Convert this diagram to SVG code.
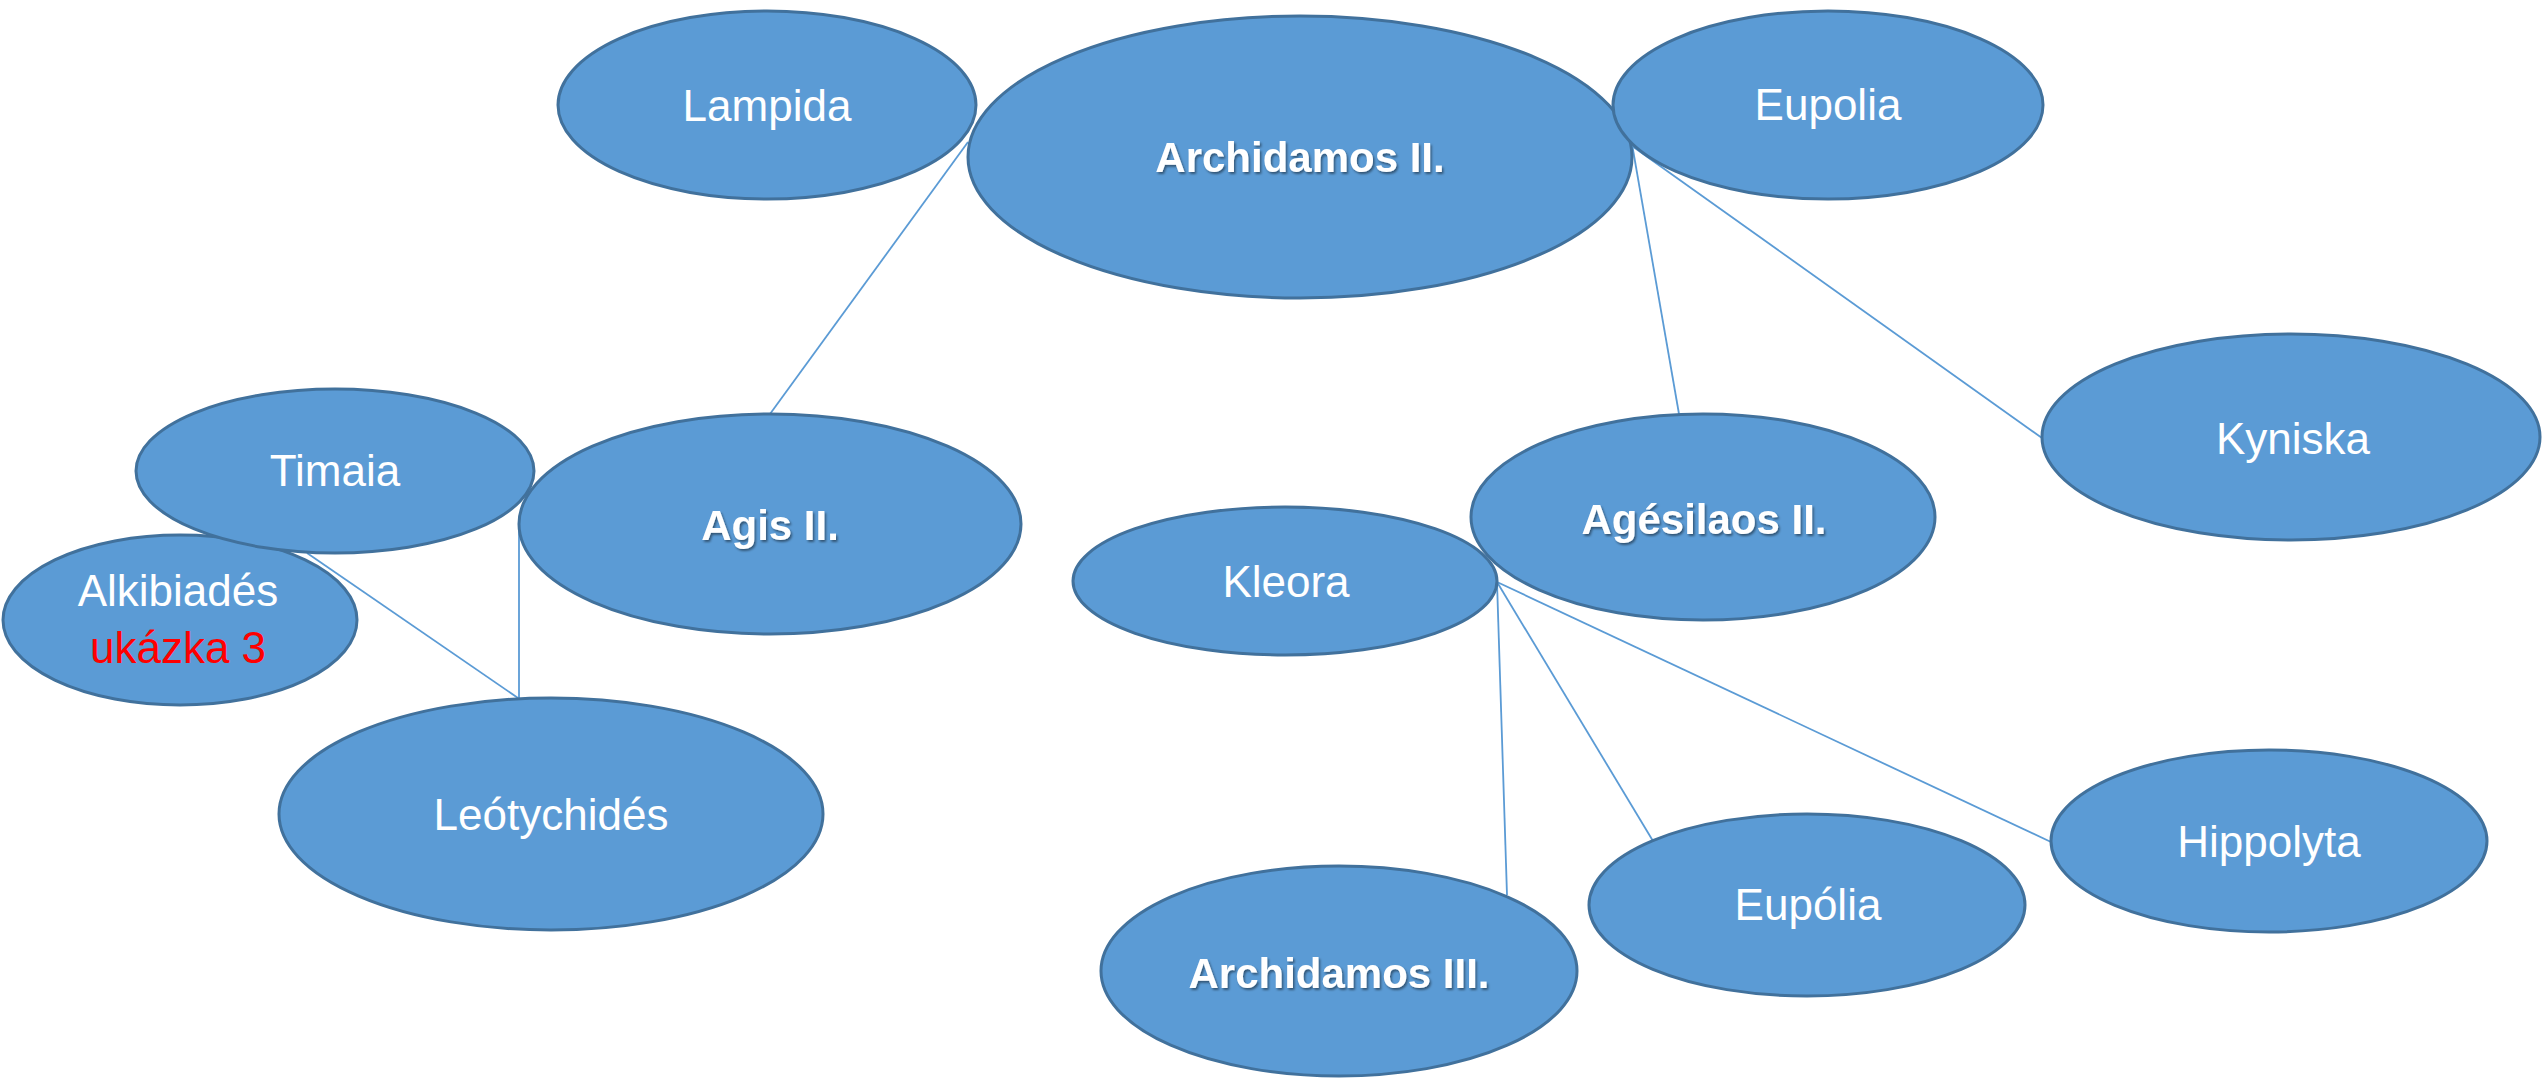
<svg xmlns="http://www.w3.org/2000/svg" width="2542" height="1078" viewBox="0 0 2542 1078">
<defs>
<filter id="sh" x="-10%" y="-30%" width="130%" height="160%">
<feDropShadow dx="1.5" dy="2" stdDeviation="1.2" flood-color="#000" flood-opacity="0.45"/>
</filter>
</defs>
<style>
.n{fill:#5B9BD5;stroke:#41719C;stroke-width:3}
.t{font-family:"Liberation Sans",Arial,sans-serif;font-size:44px;fill:#fff;text-anchor:middle}
.b{font-weight:bold;font-size:42px;filter:url(#sh)}
.r{fill:#FF0000}
.c line{stroke:#5B9BD5;stroke-width:1.8}
</style>
<rect width="2542" height="1078" fill="#fff"/>
<g id="connectors" class="c">
<line x1="968" y1="142" x2="770" y2="414"/>
<line x1="1632" y1="144" x2="1679" y2="414"/>
<line x1="1632" y1="146" x2="2042" y2="438"/>
<line x1="307" y1="553" x2="518" y2="698"/>
<line x1="519" y1="524" x2="519" y2="698"/>
<line x1="1497" y1="582" x2="1507" y2="895"/>
<line x1="1497" y1="582" x2="1653" y2="841"/>
<line x1="1497" y1="582" x2="2051" y2="842"/>
</g>
<g id="lampida"><ellipse class="n" cx="767" cy="105" rx="209" ry="94"/><text class="t" x="767" y="121">Lampida</text></g>
<g id="archidamos2"><ellipse class="n" cx="1300" cy="157" rx="332" ry="141"/><text class="t b" x="1300" y="172">Archidamos II.</text></g>
<g id="eupolia"><ellipse class="n" cx="1828" cy="105" rx="215" ry="94"/><text class="t" x="1828" y="120">Eupolia</text></g>
<g id="kyniska"><ellipse class="n" cx="2291" cy="437" rx="249" ry="103"/><text class="t" x="2293" y="454">Kyniska</text></g>
<g id="alkibiades"><ellipse class="n" cx="180" cy="620" rx="177" ry="85"/><text class="t" x="178" y="606">Alkibiadés</text><text class="t r" x="178" y="663">ukázka 3</text></g>
<g id="timaia"><ellipse class="n" cx="335" cy="471" rx="199" ry="82"/><text class="t" x="335" y="486">Timaia</text></g>
<g id="agis2"><ellipse class="n" cx="770" cy="524" rx="251" ry="110"/><text class="t b" x="770" y="540">Agis II.</text></g>
<g id="leotychides"><ellipse class="n" cx="551" cy="814" rx="272" ry="116"/><text class="t" x="551" y="830">Leótychidés</text></g>
<g id="kleora"><ellipse class="n" cx="1285" cy="581" rx="212" ry="74"/><text class="t" x="1286" y="597">Kleora</text></g>
<g id="agesilaos2"><ellipse class="n" cx="1703" cy="517" rx="232" ry="103"/><text class="t b" x="1704" y="534">Agésilaos II.</text></g>
<g id="archidamos3"><ellipse class="n" cx="1339" cy="971" rx="238" ry="105"/><text class="t b" x="1339" y="988">Archidamos III.</text></g>
<g id="eupolia2"><ellipse class="n" cx="1807" cy="905" rx="218" ry="91"/><text class="t" x="1808" y="920">Eupólia</text></g>
<g id="hippolyta"><ellipse class="n" cx="2269" cy="841" rx="218" ry="91"/><text class="t" x="2269" y="857">Hippolyta</text></g>
</svg>
